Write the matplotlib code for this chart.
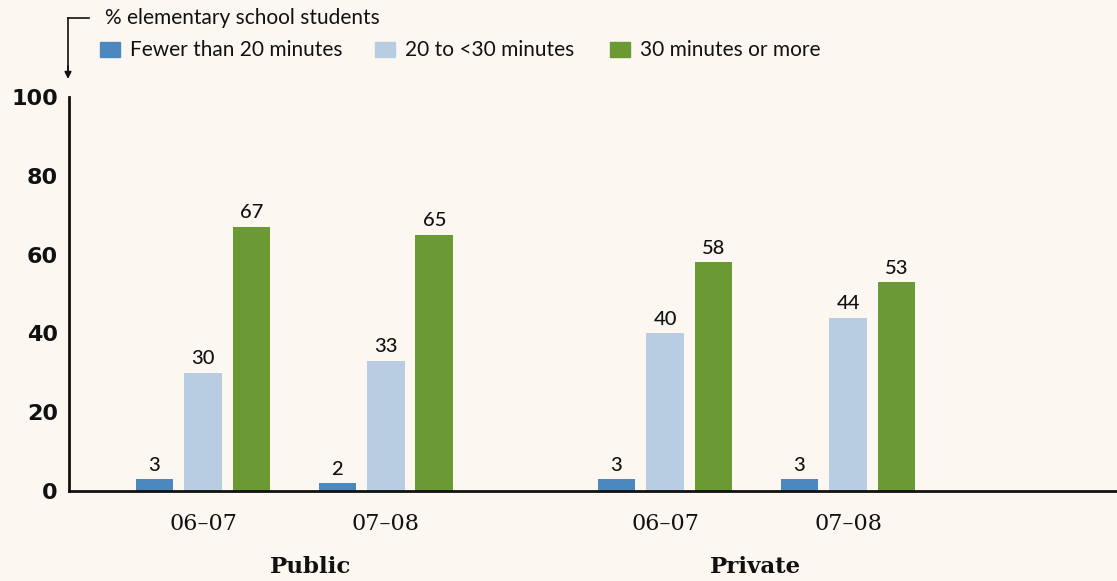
import matplotlib
matplotlib.use("Agg")
import matplotlib.pyplot as plt
from matplotlib.patches import Rectangle
import numpy as np

# ---- data ----
groups = ["Public", "Public", "Private", "Private"]
periods = ["06–07", "07–08", "06–07", "07–08"]
series_names = ["Fewer than 20 minutes", "20 to <30 minutes", "30 minutes or more"]
fewer_20 = [3, 2, 3, 3]
mid_20_30 = [30, 33, 40, 44]
more_30 = [67, 65, 58, 53]
y_ticks = [0, 20, 40, 60, 80, 100]
axis_title = "% elementary school students"
group_labels = ["Public", "Private"]

# ---- style ----
BG = "#FCF8F1"
colors = ["#4A88BE", "#B8CDE2", "#6B9A34"]
W, H, DPI = 1117, 581, 100

fig = plt.figure(figsize=(W / DPI, H / DPI), dpi=DPI, facecolor=BG)
ax = fig.add_axes([69 / W, 1 - 491 / H, 1 - 69 / W, (491 - 97) / H])
ax.set_facecolor(BG)

pos = np.array([0, 1, 2.525, 3.525])
bw = 0.207
step = 0.265
all_series = [fewer_20, mid_20_30, more_30]
for i, (vals, c) in enumerate(zip(all_series, colors)):
    xs = pos + (i - 1) * step
    ax.bar(xs, vals, width=bw, color=c, zorder=2)
    for x, v in zip(xs, vals):
        ax.annotate(str(v), xy=(x, v), xytext=(0, 4), textcoords="offset points",
                    ha="center", va="bottom", fontsize=14.5, family="Lato",
                    fontweight="medium", color="#111111")

ax.set_xlim(-0.732, 4.995)
ax.set_ylim(0, 100)
for s in ["top", "right"]:
    ax.spines[s].set_visible(False)
ax.spines["left"].set_linewidth(2)
ax.spines["bottom"].set_linewidth(2)
ax.spines["left"].set_color("#111111")
ax.spines["bottom"].set_color("#111111")
ax.set_yticks(y_ticks)
ax.set_yticklabels([str(t) for t in y_ticks], family="DejaVu Sans", fontweight="heavy",
                   fontsize=16, color="#111111")
ax.tick_params(axis="y", length=0, pad=8)
ax.set_xticks(pos)
ax.set_xticklabels(periods, family="DejaVu Serif", fontsize=16, color="#111111")
ax.tick_params(axis="x", length=0, pad=16)

group_pos = [0.59, 3.02]
for gx, g in zip(group_pos, group_labels):
    ax.annotate(g, xy=(gx, 0), xycoords=("data", "axes fraction"),
                xytext=(0, -76 * 72 / DPI), textcoords="offset points",
                ha="center", va="center", family="DejaVu Serif",
                fontweight="bold", fontsize=16.5, color="#111111")

# header text and bracket arrow
fig.text(105 / W, 1 - 18 / H, axis_title, ha="left", va="center",
         family="Lato", fontsize=15, color="#111111")
fig.add_artist(plt.Line2D([68 / W, 89 / W], [1 - 18 / H, 1 - 18 / H],
                          transform=fig.transFigure, color="#111111", lw=1.2))
fig.add_artist(plt.Line2D([68 / W, 68 / W], [1 - 18 / H, 1 - 70 / H],
                          transform=fig.transFigure, color="#111111", lw=1.2))
ax.annotate("", xy=(68 / W, 1 - 79 / H), xycoords="figure fraction",
            xytext=(68 / W, 1 - 66 / H), textcoords="figure fraction",
            arrowprops=dict(arrowstyle="-|>", color="#111111", lw=1.2,
                            mutation_scale=10, shrinkA=0, shrinkB=0))

# legend
leg_x = [100, 375, 610]
for lx, name, c in zip(leg_x, series_names, colors):
    fig.add_artist(Rectangle((lx / W, 1 - 57 / H), 20 / W, 15 / H,
                             transform=fig.transFigure, color=c))
    fig.text((lx + 30) / W, 1 - 50 / H, name, ha="left", va="center",
             family="Lato", fontsize=15, color="#111111")

fig.savefig("out.png", dpi=DPI, facecolor=BG)
